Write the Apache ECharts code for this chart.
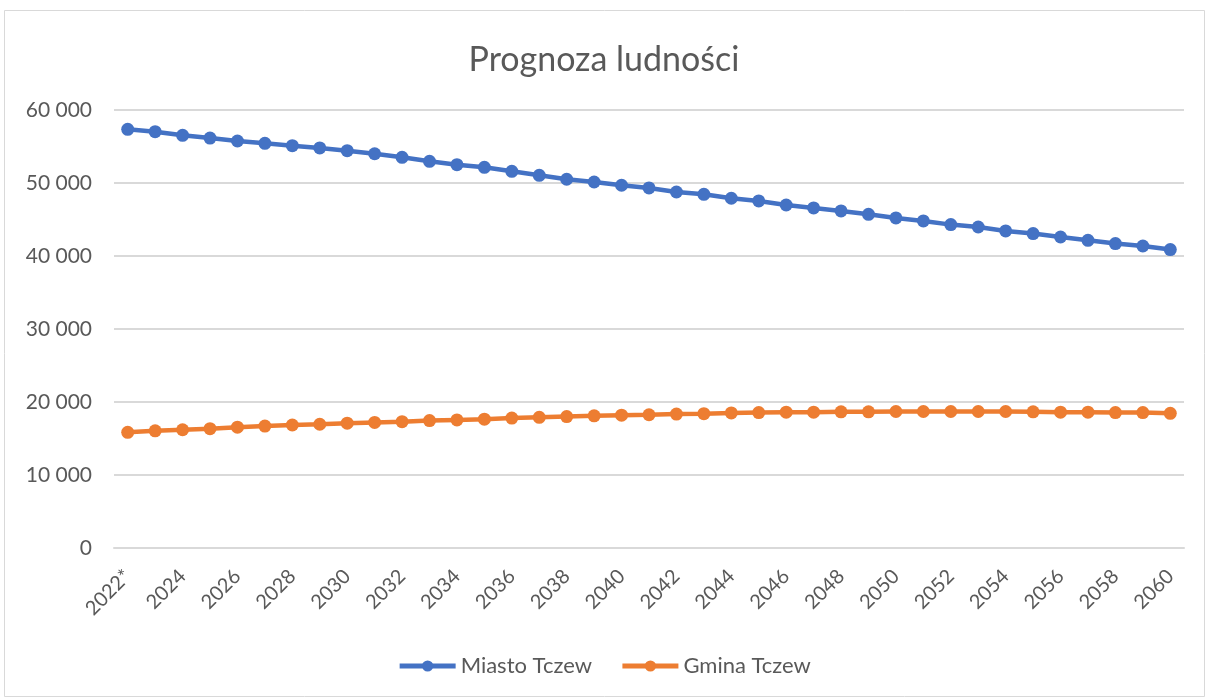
<!DOCTYPE html>
<html>
<head>
<meta charset="utf-8">
<title>Prognoza ludności</title>
<script src="https://cdn.jsdelivr.net/npm/echarts@6/dist/echarts.min.js"></script>
<style>
	html, body { margin: 0; padding: 0; background: #fff; }
	#chart { width: 1208px; height: 699px; }
</style>
</head>
<body>
<div id="chart"></div>
<script>
	// lata prognozy
	var years = ['2022*'];
	for (var y = 2023; y <= 2060; y++) years.push(String(y));

	// Miasto Tczew
	var miasto = [
		57350, 57030, 56530, 56160, 55750, 55440, 55110, 54800, 54430, 54010,
		53520, 52970, 52510, 52150, 51600, 51050, 50510, 50140, 49690, 49320,
		48770, 48450, 47910, 47540, 46990, 46580, 46170, 45710, 45210, 44800,
		44300, 43970, 43430, 43070, 42600, 42150, 41700, 41370, 40880
	];
	// Gmina Tczew
	var gmina = [
		15850, 16050, 16200, 16350, 16550, 16700, 16850, 16950, 17100, 17200,
		17300, 17450, 17550, 17650, 17800, 17900, 18000, 18100, 18200, 18250,
		18350, 18400, 18500, 18550, 18600, 18600, 18650, 18650, 18700, 18700,
		18700, 18700, 18700, 18650, 18600, 18600, 18550, 18550, 18450
	];

	var seriesNames = ['Miasto Tczew', 'Gmina Tczew'];
	var colors = ['#4472C4', '#ED7D31'];

	var txt = '#595959';
	var font = 'Lato, "Open Sans", sans-serif';

	function spaced(v) {
		return String(v).replace(/\B(?=(\d{3})+(?!\d))/g, ' ');
	}

	function lineSeries(name, data, color) {
		return {
			name: name,
			type: 'line',
			data: data,
			symbol: 'circle',
			symbolSize: 13,
			lineStyle: { width: 4.5, color: color },
			itemStyle: { color: color },
			animation: false
		};
	}

	var myChart = echarts.init(document.getElementById('chart'));
	myChart.setOption({
		backgroundColor: '#fff',
		color: colors,
		textStyle: { fontFamily: font },
		graphic: [{
			type: 'rect',
			shape: { x: 4.5, y: 10.5, width: 1200, height: 686 },
			style: { fill: 'none', stroke: '#D9D9D9', lineWidth: 1 },
			silent: true
		}],
		title: {
			text: 'Prognoza ludności',
			left: 'center',
			top: 38,
			textStyle: { color: txt, fontSize: 34, fontWeight: 'normal', fontFamily: font }
		},
		legend: {
			data: seriesNames,
			bottom: 17,
			left: 'center',
			itemWidth: 56,
			itemHeight: 14,
			itemGap: 28,
			lineStyle: { width: 5 },
			textStyle: { color: txt, fontSize: 22, fontFamily: font }
		},
		grid: { left: 114, right: 24, top: 110, bottom: 151 },
		xAxis: {
			type: 'category',
			data: years,
			boundaryGap: true,
			axisLine: { show: true, lineStyle: { color: '#D9D9D9', width: 2 } },
			axisTick: { show: false },
			axisLabel: {
				interval: 1,
				rotate: 45,
				color: txt,
				fontSize: 20,
				fontFamily: font,
				margin: 25
			}
		},
		yAxis: {
			type: 'value',
			min: 0,
			max: 60000,
			interval: 10000,
			axisLine: { show: false },
			axisTick: { show: false },
			splitLine: { lineStyle: { color: '#D9D9D9', width: 2 } },
			axisLabel: {
				color: txt,
				fontSize: 21,
				fontFamily: font,
				margin: 22,
				formatter: spaced
			}
		},
		series: [
			lineSeries(seriesNames[0], miasto, colors[0]),
			lineSeries(seriesNames[1], gmina, colors[1])
		]
	});
</script>
</body>
</html>
